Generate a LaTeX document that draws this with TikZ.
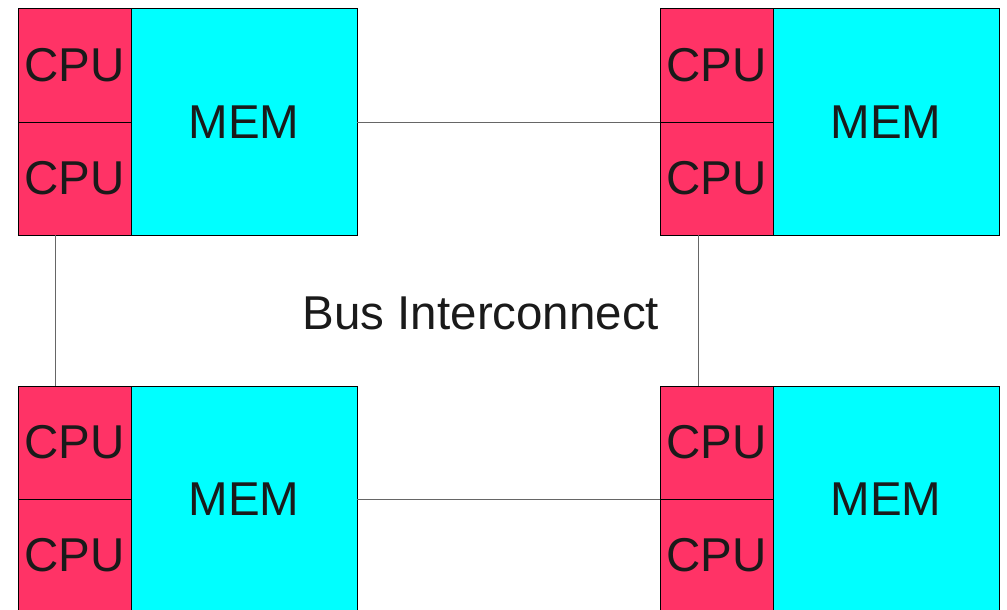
\documentclass[tikz,border=0pt]{standalone}
\usepackage{fontspec}
\setmainfont{Liberation Sans}
\usetikzlibrary{positioning,calc}
\definecolor{cpured}{HTML}{FF3366}
\definecolor{memcyan}{HTML}{00FFFF}
\definecolor{inktext}{HTML}{1A1A1A}

\begin{document}
\begin{tikzpicture}[x=1pt,y=-1pt,
    font=\fontsize{47.5}{57}\selectfont,
    text=inktext,
    node distance=0pt]
    \tikzset{cpu/.style = {draw, fill=cpured, line width=1pt, outer sep=0pt,
        minimum width=113pt, minimum height=113pt, inner sep=0pt},
      mem/.style = {draw, fill=memcyan, line width=1pt, outer sep=0pt,
        minimum width=226pt, minimum height=226pt, inner sep=0pt, anchor=west},
      bus/.style = {draw=black!60, line width=1pt}}
    \useasboundingbox (0,0) rectangle (1007,610);
    % top left
    \node[cpu] (cpuA1) at (74.5,65.5) {CPU};
    \node[cpu, below=of cpuA1] (cpuA2) {CPU};
    \node[mem] (memA) at (cpuA1.south east) {MEM};
    % top right
    \node[cpu] (cpuB1) at (716.5,65.5) {CPU};
    \node[cpu, below=of cpuB1] (cpuB2) {CPU};
    \node[mem] (memB) at (cpuB1.south east) {MEM};
    % bottom left
    \node[cpu] (cpuC1) at (74.5,442.5) {CPU};
    \node[cpu, below=of cpuC1] (cpuC2) {CPU};
    \node[mem] (memC) at (cpuC1.south east) {MEM};
    % bottom right
    \node[cpu] (cpuD1) at (716.5,442.5) {CPU};
    \node[cpu, below=of cpuD1] (cpuD2) {CPU};
    \node[mem] (memD) at (cpuD1.south east) {MEM};
    \node (label) at (481,313) {Bus Interconnect};
    \draw[bus] (memA.east) -- (cpuB1.south west);
    \draw[bus] (memC.east) -- (cpuD1.south west);
    \draw[bus] ([xshift=37pt]cpuA2.south west) -- ([xshift=37pt]cpuC1.north west);
    \draw[bus] ([xshift=38pt]cpuB2.south west) -- ([xshift=38pt]cpuD1.north west);
  \end{tikzpicture}
\end{document}
